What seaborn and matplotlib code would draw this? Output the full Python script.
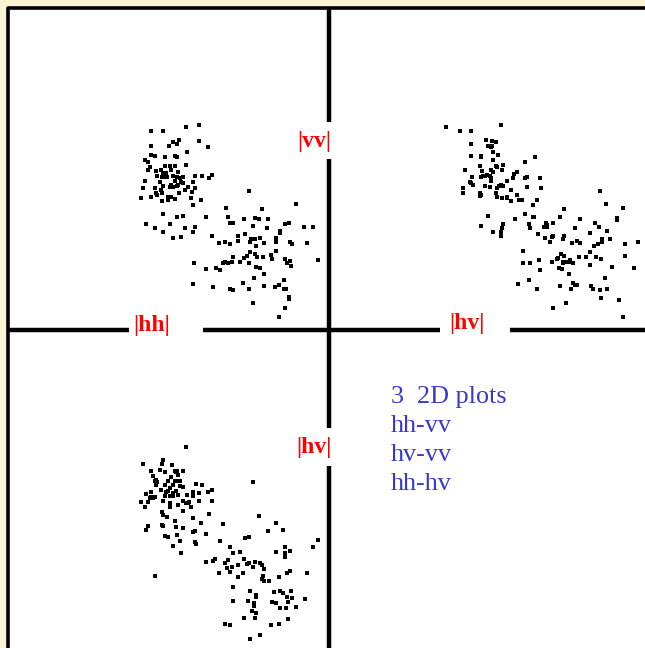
import matplotlib.pyplot as plt
import pandas as pd
import seaborn as sns
from matplotlib.patches import Rectangle

# point positions (canvas pixels, y downwards)
hh_vv_x = [151, 163.3, 185.7, 199.3, 173.3, 179.3, 177, 169.3, 151, 199.3, 208, 186.7, 151, 154.7,
           164.7, 174.7, 177, 144.7, 148.3, 185.7, 164.7, 169.7, 174.7, 149.7, 148.3, 156, 161, 171,
           178.3, 163.3, 166, 157.3, 162.3, 164.7, 167.3, 173.3, 177, 179.7, 183.3, 195.3, 201.7, 209,
           211.7, 144.7, 159.7, 174.7, 181, 193.3, 163.3, 171, 178.3, 183.3, 177, 188.3, 195.3, 143.3,
           154.7, 161, 169.7, 173.3, 184.7, 156, 162.3, 179.3, 192, 141, 151, 157.3, 168.3, 171, 174.7,
           191, 200.7, 162, 168.3, 193.3, 225.7, 163.3, 177, 183.3, 205.7, 227.7, 146, 169.7, 154.7,
           184.7, 194.7, 163.3, 193.3, 212, 173.3, 181, 219.3, 225.3,
           248.7, 296, 261.7, 230, 233.3, 243.7, 255, 259, 268.3, 252.7, 285, 288.7, 304.3, 313,
           267.3, 280, 280, 237.7, 237.7, 245, 251, 252.7, 254.7, 260, 276, 276, 290, 292.3, 307.3,
           230, 250, 263.7, 255.7, 250.3, 276.3, 232.7, 246.7, 244.3, 255.3, 256.7, 262.7, 271, 272.3,
           284.7, 287, 290, 291, 318.3, 194.3, 222.7, 225, 227.7, 231.7, 240, 248.7, 205.7, 215.7,
           220.3, 256, 260.3, 263.7, 254, 193.3, 213, 230.3, 233, 243, 249, 263.7, 274.7, 278.7, 283.7,
           283.7, 286, 288.7, 288.7, 252.7, 285, 278.7]
hh_vv_y = [131, 131, 127.3, 125, 142.3, 140, 143.7, 146, 146, 141, 147.3, 152.3, 154.7, 156.3,
           157.3, 156.3, 157.3, 159.7, 162.3, 164.7, 166, 166, 166, 167.3, 169.7, 171, 169.7, 169.7,
           172.3, 173.3, 173.3, 176, 177.3, 177.3, 177.3, 176, 177.3, 178.3, 177.3, 176, 176, 178.3,
           174.7, 181, 182, 181, 182, 182, 186, 184.7, 184.7, 183.3, 186, 187, 188.3, 188.3,
           188.3, 189.7, 187, 187, 189.7, 193.3, 193.3, 193.3, 192, 198.3, 197, 194.7, 197, 197, 199.3,
           198.3, 199.7, 201, 199.7, 204.7, 208.3, 214.3, 216.7, 215.7, 216.7, 216.7, 224.3, 224.3, 228,
           228, 227, 232, 232, 235.7, 238, 236.7, 243, 241.7,
           191, 204.3, 209.3, 223.3, 223.3, 219.3, 218.3, 219.3, 219.3, 225.7, 224.3, 223.3, 226.7, 226.7,
           228.3, 231, 233.3, 235.7, 240.7, 234.3, 239.3, 239.3, 239.3, 238.3, 238.3, 242, 242, 244.3, 243,
           244.3, 241.7, 243, 245.7, 251.7, 250.7, 256.7, 255.7, 258.3, 254, 256.7, 256.7, 255.3, 259.3,
           259, 262.7, 260.7, 265.7, 260.3, 262.7, 262.7, 261.7, 262.7, 261.7, 261.7, 262.7, 269, 267.7,
           270, 266.7, 267.7, 274.3, 277.7, 284, 286.7, 288.7, 290, 282.7, 289, 285.7, 286.7, 285, 280,
           288.7, 288.7, 297.3, 299.3, 302.7, 307.7, 317.3]

hv_vv_x = [446, 459.7, 471, 500.7, 471, 485.7, 492, 495.7, 488.3, 490.7, 492, 493.3, 498.3, 471,
           481, 481, 493.3, 535.3, 525.3, 503.3, 479.7, 495.7, 497, 464.7, 482.3, 490.7, 493.3, 502,
           487, 489.7, 483.3, 484.7, 472, 481, 490.7, 490.7, 514.3, 516.7, 513, 525.3, 526.7, 540.3,
           469.7, 471, 473.3, 507, 484.7, 489.7, 497, 499.3, 500.7, 503.3, 510.7, 526.7, 541.3, 463.3,
           463.3, 479.7, 481, 479.7, 495.7, 497, 502, 507, 507, 510.7, 516.7, 519.3, 521.7, 536.7,
           532.7, 488.3, 525.3, 532.7, 534, 515.3, 481, 503.3, 502, 529.3, 530.3, 543.7, 493.3, 500.7,
           500.7, 538,
           600, 606.3, 623.3, 564, 560.3, 580.3, 617.3, 617.3, 595, 599, 553, 545.7, 546.7, 546.7,
           575, 607.3, 590, 545, 551.7, 553.3, 550, 562.7, 564, 572.3, 576.7, 580.3, 593.7, 602.3,
           602.3, 597.7, 610, 624.7, 638.3, 523, 590, 523, 530.3, 539.3, 551.7, 556.7, 557.7, 561.3,
           564, 562.7, 564, 565.7, 562.7, 569, 570.3, 572.7, 578.7, 586, 596.3, 601.3, 624.7, 590,
           612.3, 634.3, 540.3, 559.3, 561.7, 569, 605, 529.3, 518.3, 536.7, 560.3, 572.7, 575.3,
           576.7, 571.3, 591.3, 592.7, 600, 607.3, 601, 618.7, 566.3, 553, 623.3]
hv_vv_y = [127.3, 131, 131, 125, 143.7, 140, 141, 142.3, 146, 147.3, 146, 152.3, 154.7, 156,
           156, 157.3, 159.7, 157.3, 162.3, 164.7, 166, 166, 167.3, 169.7, 171, 169.7, 172.3, 169.7,
           174.7, 176, 176, 176, 177.3, 177.3, 178.3, 181, 173.7, 172.3, 178.3, 178.3, 177.3, 178.3,
           182, 183.3, 184.7, 181, 186, 187, 188.3, 186, 184.7, 186, 189.7, 187, 188.3, 188.3,
           193.3, 193.3, 194.7, 196, 193.3, 197, 198.3, 197, 198.3, 200.7, 194.7, 199.7, 199.7, 199.7,
           204.7, 215.7, 214.3, 216.7, 216.7, 219.3, 225.7, 224.3, 228, 224.3, 228, 227, 232, 232,
           235.7, 234.3,
           191, 204.3, 208.3, 209.3, 217, 219.3, 218.3, 219.7, 223.3, 226.7, 223.3, 223.3, 225, 226.7,
           228.3, 230.7, 233.3, 238.3, 237.3, 236, 242, 239.3, 235.7, 243.3, 240.7, 243, 245.7, 239.3,
           242, 244.3, 239.3, 244.3, 241.7, 250.7, 251.7, 262.7, 262.7, 260.3, 261.7, 259, 258, 254.3,
           255.7, 261.7, 261.7, 261.7, 263.3, 261.7, 260.3, 263.3, 256.7, 256.7, 256.7, 259.3, 255.7, 265.3,
           266.7, 267.7, 270.3, 267.7, 269, 274.3, 277.7, 280, 284, 288.7, 286.3, 282.7, 285.3,
           285.3, 288.7, 286.3, 288.7, 290, 288.7, 297.7, 300, 302.7, 307.7, 317.3]

hh_hv_x = [185.7, 163.3, 162, 143.3, 172, 151, 159.7, 164.7, 174.7, 177, 176, 183.3, 171, 153.3,
           178.3, 154.7, 156, 156, 157.3, 168.3, 174.7, 177, 179.7, 164.7, 173.3, 179.7, 195.7, 201.7,
           161, 169.7, 168.3, 175.7, 183.3, 151, 146, 166, 172.7, 178.3, 187, 193.3, 193.3, 199.3,
           208, 211.7, 151, 154.7, 149.7, 153.3, 164.7, 169.7, 173.3, 163.3, 183.3, 185.7, 188.3, 189.3,
           199.3, 211.7, 141, 148.3, 169.7, 169.7, 178.3, 144.7, 190.7, 183.3, 162.3, 163.3, 167.3,
           209.3, 174.7, 193.3, 200.7, 162.3, 163.3, 148.3, 146, 175.7, 183.3, 223, 193.3, 194.7, 177,
           205.7, 164.7, 168.3, 179.7, 194.7, 195.7, 220.3, 173.3, 180.7, 205.7, 213, 215.3, 225.3, 155,
           252.7, 258.7, 276, 267.7, 283.3, 245, 248.7, 318.3, 313.3, 230, 232.7, 240, 276, 284.7,
           284.7, 284.7, 290, 219, 227.7, 227, 230.3, 231.7, 237.7, 243.7, 247, 249, 252.7, 255, 260,
           261.7, 263.7, 263.3, 262, 264.3, 268.7, 237.7, 242.7, 278.7, 287.3, 290, 307.3, 232.7, 250,
           256, 256, 248.3, 232.7, 254.3, 253.7, 274.3, 280, 283.3, 291.3, 287, 291.7, 304.7, 272, 276,
           288.3, 280, 286, 296, 251.7, 256, 255, 244, 288.3, 225.3, 230.3, 271.3, 278.7, 260, 250]
hh_hv_y = [446.7, 460, 463.7, 463.7, 465, 471, 469.7, 472.3, 471, 471, 472.3, 471, 477.3, 476,
           475, 481, 480, 484.7, 482.3, 481, 481, 481, 481, 484.7, 484.7, 486, 483.7, 484.7,
           489.7, 488.3, 491, 491, 487.3, 492.3, 494.3, 492.3, 493.3, 494.7, 494.7, 492.3, 495.7, 493.3,
           491.7, 490.3, 497.3, 497.3, 498.3, 498.3, 496, 496, 496, 501, 501, 503.3, 503.3, 502,
           501, 501, 502.3, 502.3, 503.3, 507, 504.7, 507.3, 507, 511, 512, 515.3, 517,
           513.7, 520.7, 518.3, 523, 524.7, 526, 526, 530, 527, 527.7, 524.3, 532, 531, 535,
           533.7, 536, 537.3, 541.3, 542.3, 544, 541, 546, 553.3, 562, 560.7, 559.3, 563, 576,
           481.7, 516, 523.3, 531, 530, 538.3, 537.3, 540, 547.3, 547.3, 553.3, 552, 552, 547.3,
           553.3, 557.3, 551, 573.3, 560, 568.3, 571.7, 566.7, 565, 559, 564.3, 563.3, 567.3, 562, 563.3,
           565, 569.3, 576, 579.3, 580.7, 580.7, 577.3, 573.3, 577.3, 573.3, 570.7, 573.3, 587.3, 591,
           594.7, 597.3, 600.7, 600.7, 603.3, 605.7, 592.3, 590.7, 592.7, 590.7, 596.7, 598.3, 599.3, 602.3, 603.3,
           601.7, 607.7, 607.7, 606.7, 610.7, 613.3, 617.7, 618, 619.3, 624.3, 625.3, 625.3, 624.3, 635.3, 639.3]

caption_lines = ["3  2D plots", "hh-vv", "hv-vv", "hh-hv"]

points = pd.concat([
    pd.DataFrame({"x": hh_vv_x, "y": hh_vv_y, "pair": "hh-vv"}),
    pd.DataFrame({"x": hv_vv_x, "y": hv_vv_y, "pair": "hv-vv"}),
    pd.DataFrame({"x": hh_hv_x, "y": hh_hv_y, "pair": "hh-hv"}),
], ignore_index=True)

sns.set_style("white")
plt.rcParams["font.family"] = ["Liberation Serif", "DejaVu Serif"]

fig = plt.figure(figsize=(6.45, 6.48), dpi=100, facecolor="#faf2d4")
ax = fig.add_axes([0, 0, 1, 1])
ax.set_xlim(0, 645)
ax.set_ylim(648, 0)
ax.axis("off")

# white canvas with dark frame on the left/top
ax.add_patch(Rectangle((8, 8), 650, 650, facecolor="white", edgecolor="none", zorder=0))
ax.plot([8, 8, 650], [650, 8, 8], color="black", lw=2.6, solid_capstyle="projecting", zorder=1)

# crossing axis lines, broken where the labels sit
lw = 3.2
ax.plot([328.5, 328.5], [8, 122], color="black", lw=lw, solid_capstyle="butt")
ax.plot([328.5, 328.5], [159, 428], color="black", lw=lw, solid_capstyle="butt")
ax.plot([328.5, 328.5], [466, 650], color="black", lw=lw, solid_capstyle="butt")
ax.plot([8, 129], [329.5, 329.5], color="black", lw=lw, solid_capstyle="butt")
ax.plot([203, 440], [329.5, 329.5], color="black", lw=lw, solid_capstyle="butt")
ax.plot([510, 650], [329.5, 329.5], color="black", lw=lw, solid_capstyle="butt")

sns.scatterplot(data=points, x="x", y="y", color="black", marker="s", s=6,
                linewidth=0, legend=False, ax=ax, zorder=3)
ax.set_xlim(0, 645)
ax.set_ylim(648, 0)

red = dict(color="#ff0000", fontsize=17, fontweight="bold", ha="center", va="center")
ax.text(314, 141, "|vv|", **red)
ax.text(152, 326, "|hh|", **red)
ax.text(467, 324, "|hv|", **red)
ax.text(314, 447, "|hv|", **red)

for i, line in enumerate(caption_lines):
    ax.text(391, 397 + i * 29, line, color="#3838cc", fontsize=18.8, ha="left", va="center")

fig.savefig("out.png", dpi=100, facecolor=fig.get_facecolor())
